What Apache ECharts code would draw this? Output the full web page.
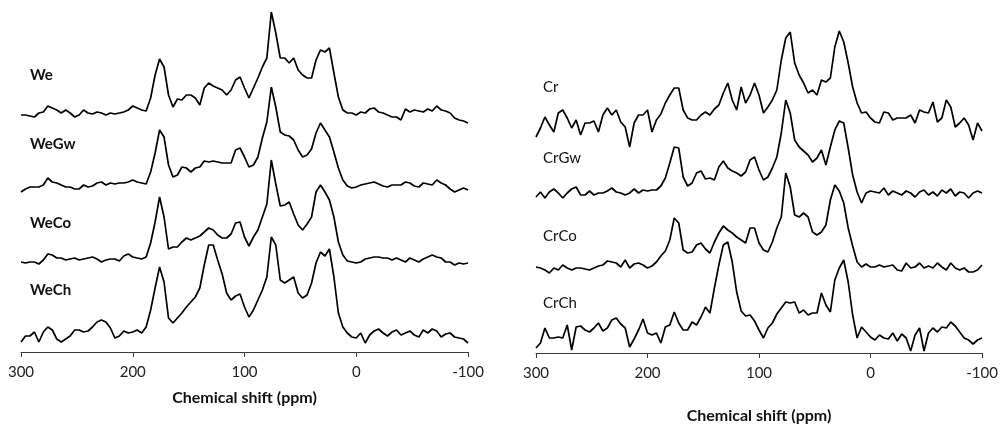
<!DOCTYPE html>
<html>
<head>
<meta charset="utf-8">
<script src="https://cdn.jsdelivr.net/npm/echarts@6/dist/echarts.min.js"></script>
<style>
html,body{margin:0;padding:0;background:#fff;}
#chart{width:1001px;height:430px;}
</style>
</head>
<body>
<div id="chart"></div>
<script>
// Chemical shift grid (ppm), 300 -> -100, step 4
var ppm = [300,296,292,288,284,280,276,272,268,264,260,256,252,248,244,240,236,232,228,224,
220,216,212,208,204,200,196,192,188,184,180,176,172,168,164,160,156,152,148,144,
140,136,132,128,124,120,116,112,108,104,100,96,92,88,84,80,76,72,68,64,
60,56,52,48,44,40,36,32,28,24,20,16,12,8,4,0,-4,-8,-12,-16,
-20,-24,-28,-32,-36,-40,-44,-48,-52,-56,-60,-64,-68,-72,-76,-80,-84,-88,-92,-96,-100];

var tickLabels = ['300','200','100','0','-100'];
var axisTitle = 'Chemical shift (ppm)';

var leftNames = ['We','WeGw','WeCo','WeCh'];
var rightNames = ['Cr','CrGw','CrCo','CrCh'];

// intensities (arbitrary units, relative to each trace's baseline)
var We = [1,1,0,-1,3,4,10,8,6,3, 6,3,-1,1,6,3,2,4,3,1, 3,2,3,4,6,10,8,6,5,18,
41,57,49,21,9,17,16,21,21,18, 11,28,33,30,28,26,21,26,36,39, 28,18,28,38,49,58,104,83,58,58,
53,58,46,41,38,38,56,66,64,68, 43,19,6,3,3,1,4,3,7,8, 4,3,1,-1,-1,-4,7,4,6,5, 4,7,5,10,6,5,3,-2,-4,-5, -7];
var WeGw = [-2,1,3,3,3,5,12,8,7,5, 3,3,1,1,5,3,4,7,8,5, 7,6,7,7,8,10,8,7,6,18,
37,60,53,25,13,15,23,22,18,22, 23,29,28,29,28,27,27,27,40,42, 33,23,25,33,52,68,103,83,58,55,
54,50,40,33,35,41,57,67,60,53, 38,22,10,4,2,3,5,6,7,8, 6,4,3,5,5,5,8,7,4,3, 7,6,5,10,7,5,1,-2,0,2, 0];
var WeCo = [0,-1,0,0,-2,2,8,7,4,4, 2,3,4,2,3,4,5,3,0,2, 3,3,1,6,8,5,4,3,5,19,
40,65,45,13,15,15,20,24,22,24, 26,30,34,32,27,24,24,28,39,40, 25,16,25,32,45,58,102,78,56,57,
60,48,37,32,38,45,70,77,70,62, 45,20,7,1,0,-1,0,3,4,5, 5,4,4,2,4,2,0,4,2,0, 3,5,7,5,4,0,0,-3,-1,-2, -1];
var WeCh = [-2,4,4,8,-2,8,13,10,1,-2, 1,4,10,10,8,9,13,18,20,18, 12,2,4,9,7,8,10,7,13,30,
52,73,58,22,17,22,27,33,38,43, 52,75,95,95,80,66,47,40,44,46, 33,23,30,40,50,63,103,95,60,57,
60,63,47,42,45,57,77,88,84,91, 63,27,13,7,3,2,7,-3,5,9, 11,7,4,8,10,5,7,9,5,3, 10,7,11,9,3,6,7,3,2,1, -3];
var Cr = [-11,-2,9,1,-6,13,16,8,-2,6, -9,3,3,5,-6,11,18,11,16,4, -1,-21,3,11,11,16,-6,6,12,23,
31,38,38,16,8,6,6,11,14,11, 17,21,33,43,26,16,39,23,31,43, 31,13,19,26,36,66,88,94,63,51,
43,33,36,31,46,44,48,79,95,84, 63,39,23,13,14,8,4,3,14,13, 6,8,8,8,11,3,16,14,13,24, 4,8,26,19,-1,3,8,1,-14,3, -5];
var CrGw = [-2,3,-3,3,6,2,-3,2,6,8, 0,0,4,0,2,2,4,7,3,2, 0,2,6,2,5,4,5,5,9,17,
32,48,47,18,9,12,22,24,16,17, 15,28,34,27,24,22,19,23,35,38, 25,15,18,27,38,62,95,82,55,48,
44,40,33,37,45,30,48,65,74,72, 47,20,3,-8,2,4,3,2,7,0, 4,2,0,4,2,-2,3,5,0,3, -1,5,2,6,-1,3,2,-3,2,4, 2];
var CrCo = [3,2,0,-3,2,0,5,2,0,2, 2,1,0,2,4,5,9,8,7,3, 10,2,6,7,5,2,4,8,14,19,
30,52,47,20,17,18,25,27,21,17, 28,37,44,40,37,33,30,27,42,42, 27,20,18,28,42,53,97,83,55,53,
57,53,38,35,38,45,70,85,79,67, 42,24,8,3,6,3,3,5,3,4, 5,0,-1,7,2,3,7,2,4,2, 7,3,0,7,2,0,2,-2,-2,0, 5];
var CrCh = [-6,-1,14,4,4,5,4,17,-8,15, 16,12,10,14,19,11,14,22,24,18, 14,-5,3,12,23,9,7,9,-1,15,
17,30,19,12,12,20,17,25,35,29, 54,77,97,100,80,50,31,26,27,21, 12,4,14,19,28,34,40,39,40,29,
32,27,29,29,49,37,30,62,74,82, 60,27,4,15,10,5,2,7,4,3, 9,1,8,4,-9,7,14,-9,9,14, 10,15,14,20,16,10,4,2,-2,2, 4];

var leftSeries = [We, WeGw, WeCo, WeCh];
var rightSeries = [Cr, CrGw, CrCo, CrCh];

// layout (vertical stacking offsets, label positions)
var leftOffsets = [236, 162, 90, 12];
var rightOffsets = [227, 158, 83, 11];
var leftLabelY = [77, 146, 225, 292];
var rightLabelY = [89, 160, 238, 305];

var FONT = 'Lato, "Open Sans", sans-serif';

function xAxis(gi, nameGap) {
  return {
    type: 'value', gridIndex: gi, min: -100, max: 300, interval: 100, inverse: true,
    axisLine: {show: true, onZero: false, lineStyle: {color: '#3a3a3a', width: 1}},
    axisTick: {show: true, length: 5, lineStyle: {color: '#3a3a3a', width: 1}},
    splitLine: {show: false},
    axisLabel: {
      fontSize: 15, color: '#222', margin: 13, fontFamily: FONT,
      formatter: function (v) { var idx = [300,200,100,0,-100].indexOf(v); return idx >= 0 ? tickLabels[idx] : ''; }
    },
    name: axisTitle, nameLocation: 'middle', nameGap: nameGap,
    nameTextStyle: {fontSize: 16, fontWeight: 'bold', color: '#111', fontFamily: FONT}
  };
}

var series = [];
leftSeries.forEach(function (vals, k) {
  series.push({
    type: 'line', xAxisIndex: 0, yAxisIndex: 0, showSymbol: false, animation: false,
    lineStyle: {color: '#000', width: 1.7}, silent: true,
    data: ppm.map(function (x, i) { return [x, leftOffsets[k] + vals[i]]; })
  });
});
rightSeries.forEach(function (vals, k) {
  series.push({
    type: 'line', xAxisIndex: 1, yAxisIndex: 1, showSymbol: false, animation: false,
    lineStyle: {color: '#000', width: 1.7}, silent: true,
    data: ppm.map(function (x, i) { return [x, rightOffsets[k] + vals[i]]; })
  });
});

var graphics = [];
leftNames.forEach(function (n, k) {
  graphics.push({type: 'text', left: 30, top: leftLabelY[k] - 9,
    style: {text: n, font: 'bold 15px ' + FONT, fill: '#111'}});
});
rightNames.forEach(function (n, k) {
  graphics.push({type: 'text', left: 543, top: rightLabelY[k] - 9,
    style: {text: n, font: '15px ' + FONT, fill: '#111'}});
});

var chart = echarts.init(document.getElementById('chart'), null, {renderer: 'canvas'});
chart.setOption({
  animation: false,
  backgroundColor: '#fff',
  grid: [
    {left: 21, top: 0, width: 447, height: 352},
    {left: 536, top: 0, width: 446, height: 353}
  ],
  xAxis: [xAxis(0, 38), xAxis(1, 55)],
  yAxis: [
    {type: 'value', gridIndex: 0, min: 0, max: 352, show: false},
    {type: 'value', gridIndex: 1, min: 0, max: 353, show: false}
  ],
  series: series,
  graphic: graphics
});
</script>
</body>
</html>
